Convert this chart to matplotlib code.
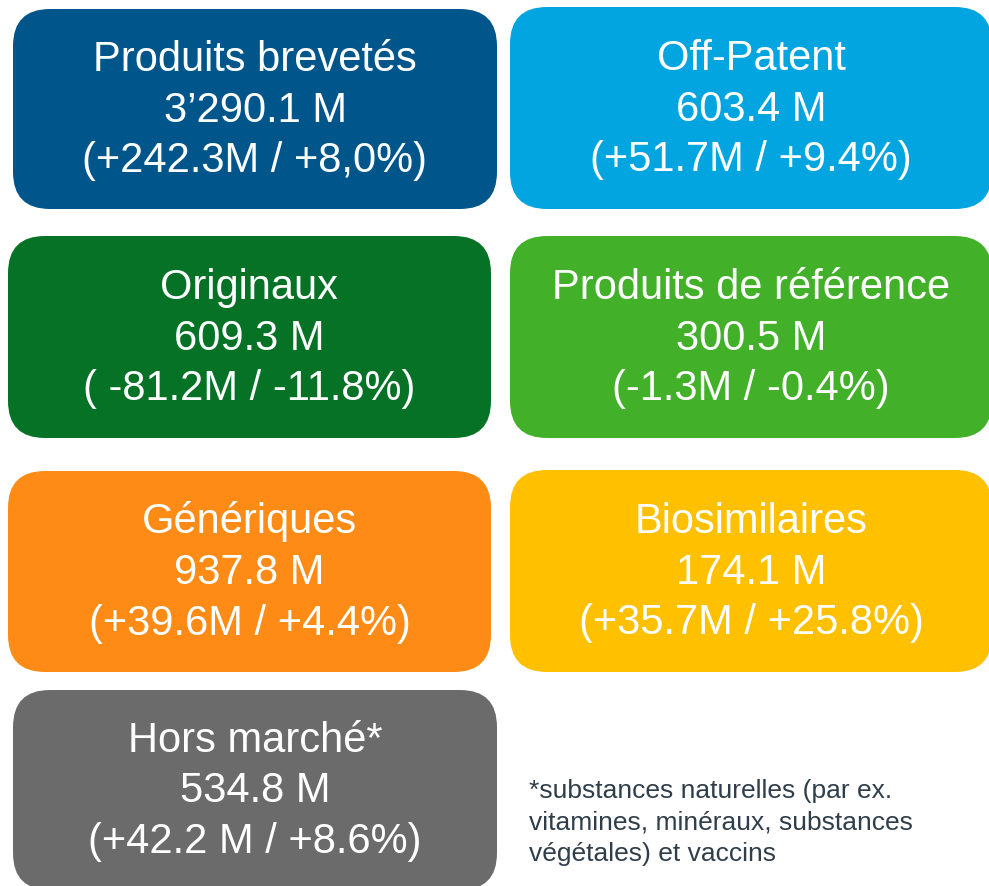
import matplotlib.pyplot as plt
from matplotlib.patches import FancyBboxPatch

# segment data (text as shown in the slide)
names = ['Produits brevetés', 'Off-Patent', 'Originaux', 'Produits de référence',
         'Génériques', 'Biosimilaires', 'Hors marché*']
totals = ['3’290.1 M', '603.4 M', '609.3 M', '300.5 M', '937.8 M', '174.1 M', '534.8 M']
changes = ['(+242.3M / +8,0%)', '(+51.7M / +9.4%)', '( -81.2M / -11.8%)', '(-1.3M / -0.4%)',
           '(+39.6M / +4.4%)', '(+35.7M / +25.8%)', '(+42.2 M / +8.6%)']
colors = ['#00568a', '#02a5e0', '#057226', '#43b02a', '#fd8b16', '#ffc000', '#6b6b6b']
footnote = ['*substances naturelles (par ex.',
            'vitamines, minéraux, substances',
            'végétales) et vaccins']

# box layout in pixels: left, top, right, bottom
boxes = [(13, 9, 497, 209), (510, 7, 992, 209),
         (8, 236, 491, 438), (510, 236, 992, 438),
         (8, 471, 491, 672), (510, 470, 992, 672),
         (13, 690, 497, 890)]

plt.rcParams['font.family'] = ['Liberation Sans', 'DejaVu Sans']

fig = plt.figure(figsize=(9.89, 8.86), dpi=100)
ax = fig.add_axes([0, 0, 1, 1])
ax.set_xlim(0, 989)
ax.set_ylim(886, 0)
ax.axis('off')

for i, (l, t, r, b) in enumerate(boxes):
    p = FancyBboxPatch((l, t), r - l, b - t,
                       boxstyle='round,pad=0,rounding_size=37',
                       facecolor=colors[i], edgecolor='none')
    ax.add_patch(p)
    cx = (l + r) / 2
    cy = (t + b) / 2
    lines = [names[i], totals[i], changes[i]]
    for j, s in enumerate(lines):
        ax.text(cx, cy - 38 + 50.5 * j, s, ha='center', va='baseline',
                color='white', fontsize=30)

for j, s in enumerate(footnote):
    ax.text(529, 798 + 31.5 * j, s, ha='left', va='baseline',
            color='#2f3e4a', fontsize=19)

fig.savefig('out.png', dpi=100)
